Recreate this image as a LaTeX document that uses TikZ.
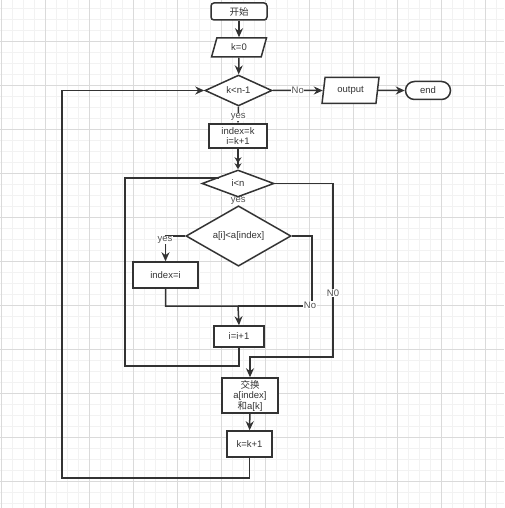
\documentclass[tikz,border=0pt]{standalone}
\usepackage{fontspec}
\setmainfont{Liberation Sans}
\newfontfamily\cjk{Noto Sans CJK SC}
\usetikzlibrary{arrows.meta,shapes.geometric}
\definecolor{ln}{HTML}{333333}
\definecolor{minorg}{HTML}{F2F2F2}
\definecolor{majorg}{HTML}{DADADA}
\tikzset{
  base/.style={draw=ln,line width=1.5pt,fill=white,inner sep=0pt,font=\fontsize{9.5}{10.5}\selectfont,text=ln},
  proc/.style={base,rectangle,minimum width=#1},
  term/.style={base,rectangle,rounded corners=#1},
  io/.style={base,trapezium,trapezium stretches=true,trapezium left angle=#1,trapezium right angle=180-#1},
  dec/.style={base,diamond},
  flow/.style={draw=ln,line width=1.5pt,-{Stealth[length=9pt,width=8pt]}},
  dflow/.style={draw=ln,line width=1.5pt,-{Stealth[length=6pt,width=7pt]Stealth[length=6pt,width=7pt]}},
  line/.style={draw=ln,line width=1.5pt},
  lbl/.style={fill=white,inner sep=0.5pt,font=\fontsize{9.5}{10}\selectfont,text=ln!85},
  minorline/.style={draw=minorg,line width=0.6pt},
  majorline/.style={draw=majorg,line width=0.8pt}
}
\begin{document}
\begin{tikzpicture}[x=1pt,y=-1pt]
\useasboundingbox (0,0) rectangle (504,508);
% background grid
\foreach \x in {1,12,...,504} \draw[minorline] (\x,0) -- (\x,508);
\foreach \y in {8,19,...,508} \draw[minorline] (0,\y) -- (504,\y);
\foreach \x in {1,45,...,504} \draw[majorline] (\x,0) -- (\x,508);
\foreach \y in {41,85,...,508} \draw[majorline] (0,\y) -- (504,\y);

% nodes
\node[term=3pt,minimum width=56pt,minimum height=17pt] (start) at (239,11.5) {{\cjk 开始}};
\node[io=75,minimum width=55pt,minimum height=19pt] (k0) at (239,47.5) {k=0};
\node[dec,minimum width=67pt,minimum height=28pt] (d1) at (238.5,90.5) {k<n-1};
\node[io=79,minimum width=57pt,minimum height=26pt] (out) at (350.5,90.5) {\raisebox{-1.5pt}{output}};
\node[term=9pt,minimum width=45pt,minimum height=18pt] (end) at (428,90.5) {end};
\node[proc=58pt,minimum height=24pt,align=center] (b1) at (238,136) {index=k\\i=k+1};
\node[dec,minimum width=72pt,minimum height=27pt] (d2) at (238,183.5) {i<n};
\node[dec,minimum width=105pt,minimum height=35pt] (d3) at (238.5,236) {a[i]<a[index]};
\node[proc=65pt,minimum height=26pt] (idx) at (165.5,275) {index=i};
\node[proc=50pt,minimum height=21pt] (inc) at (239,336.5) {i=i+1};
\node[proc=56pt,minimum height=35pt,align=center] (swap) at (250,395.5) {{\cjk 交换}\\a[index]\\{\cjk 和}a[k]};
\node[proc=45pt,minimum height=26pt] (k1) at (249.5,444) {k=k+1};

% connectors
\draw[flow] (start) -- (k0);
\draw[flow] (k0) -- (d1);
\draw[flow] (d1.east) -- node[lbl,pos=0.5]{No} (out.west);
\draw[flow] (out.east) -- (end.west);
\draw[flow] (d1.south) -- node[lbl,pos=0.6]{yes} (b1.north);
\draw[dflow] (b1.south) -- (d2.north);
\draw[flow] (d2.south) -- node[lbl]{yes} (d3.north);
\coordinate (c1) at (165.5,236);
\draw[flow] (d3.west) -- (c1) -- (idx.north);
\node[lbl] at (165,240) {yes};
\coordinate (m1) at (238,306);
\draw[flow] (idx.south) |- (m1) -- (inc.north);
\coordinate (c2) at (312,306);
\draw[line] (d3.east) -| (c2) -- (m1);
\node[lbl] at (310,305) {No};
\coordinate (c3) at (125,366);
\coordinate (c4) at (125,178);
\coordinate (c5) at (219,178);
\draw[line] (inc.south) |- (c3) -- (c4) -- (c5);
\coordinate (c7) at (333,357);
\draw[flow] (d2.east) -| (c7) -| (swap.north);
\node[lbl] at (333,293) {N0};
\draw[flow] (swap) -- (k1);
\coordinate (c8) at (62,478);
\draw[flow] (k1.south) |- (c8) |- (d1.west);
\end{tikzpicture}
\end{document}
